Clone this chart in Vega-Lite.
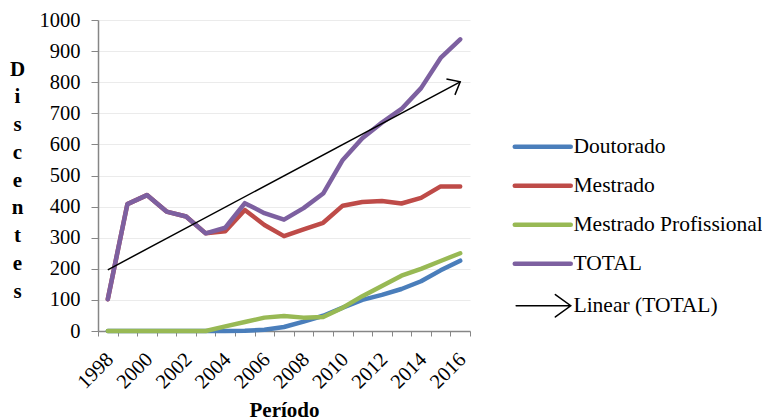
{
  "$schema": "https://vega.github.io/schema/vega-lite/v6.json",
  "autosize": {"type": "none"},
  "padding": {"left": 98, "top": 20, "right": 292, "bottom": 89},
  "width": 372,
  "height": 311,
  "background": "white",
  "config": {
    "font": "Liberation Serif",
    "view": {"stroke": null}
  },
  "data": {
    "values": [
      {"Ano": 1998, "Nivel": "Doutorado", "Discentes": 0},
      {"Ano": 1999, "Nivel": "Doutorado", "Discentes": 0},
      {"Ano": 2000, "Nivel": "Doutorado", "Discentes": 0},
      {"Ano": 2001, "Nivel": "Doutorado", "Discentes": 0},
      {"Ano": 2002, "Nivel": "Doutorado", "Discentes": 0},
      {"Ano": 2003, "Nivel": "Doutorado", "Discentes": 0},
      {"Ano": 2004, "Nivel": "Doutorado", "Discentes": 0},
      {"Ano": 2005, "Nivel": "Doutorado", "Discentes": 1},
      {"Ano": 2006, "Nivel": "Doutorado", "Discentes": 4},
      {"Ano": 2007, "Nivel": "Doutorado", "Discentes": 13},
      {"Ano": 2008, "Nivel": "Doutorado", "Discentes": 30},
      {"Ano": 2009, "Nivel": "Doutorado", "Discentes": 49},
      {"Ano": 2010, "Nivel": "Doutorado", "Discentes": 75},
      {"Ano": 2011, "Nivel": "Doutorado", "Discentes": 100},
      {"Ano": 2012, "Nivel": "Doutorado", "Discentes": 116},
      {"Ano": 2013, "Nivel": "Doutorado", "Discentes": 135},
      {"Ano": 2014, "Nivel": "Doutorado", "Discentes": 160},
      {"Ano": 2015, "Nivel": "Doutorado", "Discentes": 195},
      {"Ano": 2016, "Nivel": "Doutorado", "Discentes": 226},

      {"Ano": 1998, "Nivel": "Mestrado", "Discentes": 102},
      {"Ano": 1999, "Nivel": "Mestrado", "Discentes": 408},
      {"Ano": 2000, "Nivel": "Mestrado", "Discentes": 437},
      {"Ano": 2001, "Nivel": "Mestrado", "Discentes": 384},
      {"Ano": 2002, "Nivel": "Mestrado", "Discentes": 368},
      {"Ano": 2003, "Nivel": "Mestrado", "Discentes": 314},
      {"Ano": 2004, "Nivel": "Mestrado", "Discentes": 321},
      {"Ano": 2005, "Nivel": "Mestrado", "Discentes": 389},
      {"Ano": 2006, "Nivel": "Mestrado", "Discentes": 341},
      {"Ano": 2007, "Nivel": "Mestrado", "Discentes": 305},
      {"Ano": 2008, "Nivel": "Mestrado", "Discentes": 327},
      {"Ano": 2009, "Nivel": "Mestrado", "Discentes": 348},
      {"Ano": 2010, "Nivel": "Mestrado", "Discentes": 403},
      {"Ano": 2011, "Nivel": "Mestrado", "Discentes": 415},
      {"Ano": 2012, "Nivel": "Mestrado", "Discentes": 418},
      {"Ano": 2013, "Nivel": "Mestrado", "Discentes": 410},
      {"Ano": 2014, "Nivel": "Mestrado", "Discentes": 428},
      {"Ano": 2015, "Nivel": "Mestrado", "Discentes": 465},
      {"Ano": 2016, "Nivel": "Mestrado", "Discentes": 465},

      {"Ano": 1998, "Nivel": "Mestrado Profissional", "Discentes": 0},
      {"Ano": 1999, "Nivel": "Mestrado Profissional", "Discentes": 0},
      {"Ano": 2000, "Nivel": "Mestrado Profissional", "Discentes": 0},
      {"Ano": 2001, "Nivel": "Mestrado Profissional", "Discentes": 0},
      {"Ano": 2002, "Nivel": "Mestrado Profissional", "Discentes": 0},
      {"Ano": 2003, "Nivel": "Mestrado Profissional", "Discentes": 0},
      {"Ano": 2004, "Nivel": "Mestrado Profissional", "Discentes": 15},
      {"Ano": 2005, "Nivel": "Mestrado Profissional", "Discentes": 29},
      {"Ano": 2006, "Nivel": "Mestrado Profissional", "Discentes": 43},
      {"Ano": 2007, "Nivel": "Mestrado Profissional", "Discentes": 48},
      {"Ano": 2008, "Nivel": "Mestrado Profissional", "Discentes": 43},
      {"Ano": 2009, "Nivel": "Mestrado Profissional", "Discentes": 45},
      {"Ano": 2010, "Nivel": "Mestrado Profissional", "Discentes": 75},
      {"Ano": 2011, "Nivel": "Mestrado Profissional", "Discentes": 112},
      {"Ano": 2012, "Nivel": "Mestrado Profissional", "Discentes": 145},
      {"Ano": 2013, "Nivel": "Mestrado Profissional", "Discentes": 178},
      {"Ano": 2014, "Nivel": "Mestrado Profissional", "Discentes": 200},
      {"Ano": 2015, "Nivel": "Mestrado Profissional", "Discentes": 225},
      {"Ano": 2016, "Nivel": "Mestrado Profissional", "Discentes": 250},

      {"Ano": 1998, "Nivel": "TOTAL", "Discentes": 102},
      {"Ano": 1999, "Nivel": "TOTAL", "Discentes": 408},
      {"Ano": 2000, "Nivel": "TOTAL", "Discentes": 437},
      {"Ano": 2001, "Nivel": "TOTAL", "Discentes": 384},
      {"Ano": 2002, "Nivel": "TOTAL", "Discentes": 368},
      {"Ano": 2003, "Nivel": "TOTAL", "Discentes": 314},
      {"Ano": 2004, "Nivel": "TOTAL", "Discentes": 332},
      {"Ano": 2005, "Nivel": "TOTAL", "Discentes": 411},
      {"Ano": 2006, "Nivel": "TOTAL", "Discentes": 379},
      {"Ano": 2007, "Nivel": "TOTAL", "Discentes": 358},
      {"Ano": 2008, "Nivel": "TOTAL", "Discentes": 395},
      {"Ano": 2009, "Nivel": "TOTAL", "Discentes": 442},
      {"Ano": 2010, "Nivel": "TOTAL", "Discentes": 550},
      {"Ano": 2011, "Nivel": "TOTAL", "Discentes": 620},
      {"Ano": 2012, "Nivel": "TOTAL", "Discentes": 670},
      {"Ano": 2013, "Nivel": "TOTAL", "Discentes": 714},
      {"Ano": 2014, "Nivel": "TOTAL", "Discentes": 781},
      {"Ano": 2015, "Nivel": "TOTAL", "Discentes": 878},
      {"Ano": 2016, "Nivel": "TOTAL", "Discentes": 938}
    ]
  },
  "encoding": {
    "x": {
      "field": "Ano",
      "type": "ordinal",
      "bandPosition": 0.5,
      "scale": {"type": "band", "paddingInner": 0, "paddingOuter": 0},
      "axis": {
        "title": "Período",
        "titleFont": "Liberation Serif",
        "titleFontSize": 21,
        "titleFontWeight": "bold",
        "titleColor": "black",
        "titleBaseline": "alphabetic",
        "titleY": 85,
        "labelAngle": -45,
        "labelFontSize": 20.5,
        "labelColor": "black",
        "labelExpr": "datum.value % 2 == 0 ? datum.label : ''",
        "labelPadding": 13,
        "labelOffset": -5,
        "tickBand": "extent",
        "tickSize": 5,
        "tickColor": "#868686",
        "domainColor": "#868686",
        "domainWidth": 1.5,
        "grid": false
      }
    },
    "y": {
      "field": "Discentes",
      "type": "quantitative",
      "scale": {"domain": [0, 1000], "nice": false},
      "axis": {
        "title": ["D", "i", "s", "c", "e", "n", "t", "e", "s"],
        "titleAngle": 0,
        "titleFontSize": 21,
        "titleFontWeight": "bold",
        "titleColor": "black",
        "titleLineHeight": 27.75,
        "titleAlign": "center",
        "titleBaseline": "alphabetic",
        "titleX": -81,
        "titleY": 55,
        "values": [0, 100, 200, 300, 400, 500, 600, 700, 800, 900, 1000],
        "format": "d",
        "labelFontSize": 20.5,
        "labelColor": "black",
        "labelPadding": 11,
        "tickSize": 7,
        "tickColor": "#868686",
        "domainColor": "#868686",
        "domainWidth": 1.5,
        "gridColor": "#ebebeb",
        "gridWidth": 1.2
      }
    }
  },
  "layer": [
    {
      "mark": {"type": "line", "strokeWidth": 4.5, "strokeCap": "round", "strokeJoin": "round"},
      "encoding": {
        "color": {
          "field": "Nivel",
          "type": "nominal",
          "sort": null,
          "scale": {
            "domain": ["Doutorado", "Mestrado", "Mestrado Profissional", "TOTAL", "Linear (TOTAL)"],
            "range": ["#4a7ebb", "#be4b48", "#98b954", "#7d60a0", "#000000"]
          },
          "legend": {
            "title": null,
            "orient": "none",
            "legendX": 415,
            "legendY": 116,
            "padding": 0,
            "symbolType": "stroke",
            "symbolSize": 3136,
            "symbolStrokeWidth": 4.5,
            "symbolOffset": 19,
            "labelFontSize": 21.5,
            "labelColor": "black",
            "labelOffset": 20,
            "labelLimit": 300,
            "rowPadding": 16,
            "encode": {
              "symbols": {
                "update": {
                  "shape": {"signal": "datum.value === 'Linear (TOTAL)' ? 'M-0.95,0L1,0M0.45,-0.4L1,0L0.45,0.4' : 'stroke'"},
                  "strokeWidth": {"signal": "datum.value === 'Linear (TOTAL)' ? 1.5 : 4.5"},
                  "strokeCap": {"value": "round"}
                }
              }
            }
          }
        }
      }
    },
    {
      "transform": [
        {"filter": "datum.Nivel === 'TOTAL'"},
        {"regression": "Discentes", "on": "Ano", "extent": [1998, 2016]}
      ],
      "mark": {"type": "line", "stroke": "black", "strokeWidth": 1.5},
      "encoding": {}
    },
    {
      "transform": [
        {"filter": "datum.Nivel === 'TOTAL'"},
        {"regression": "Discentes", "on": "Ano", "extent": [1998, 2016]},
        {"filter": "datum.Ano === 2016"}
      ],
      "mark": {
        "type": "point",
        "shape": "M-1,-0.84L0,0L-1,0.84",
        "size": 465,
        "filled": false,
        "stroke": "black",
        "strokeWidth": 1.5,
        "opacity": 1,
        "angle": 332
      },
      "encoding": {}
    }
  ]
}
